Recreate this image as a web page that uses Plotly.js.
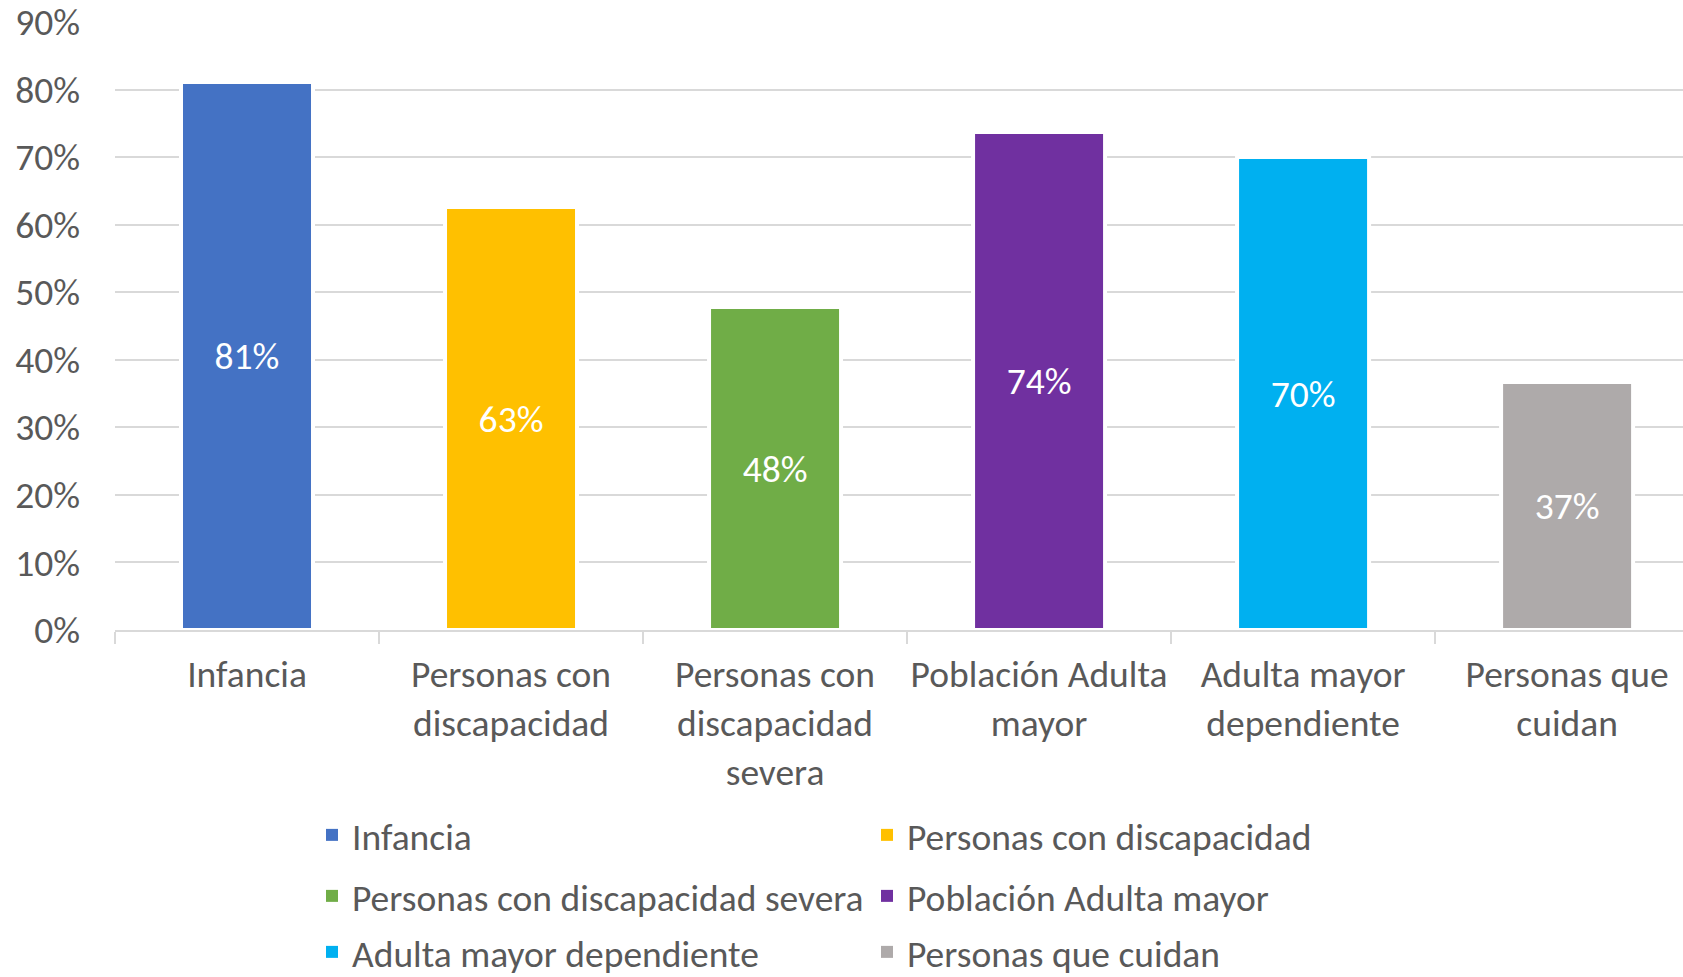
<!DOCTYPE html>
<html>
<head>
<meta charset="utf-8">
<script src="https://cdn.plot.ly/plotly-3.0.1.min.js"></script>
<style>html,body{margin:0;padding:0;background:#fff;}#chart{width:1683px;height:977px;}</style>
</head>
<body>
<div id="chart"></div>
<script>
const categories = ["Infancia", "Personas con discapacidad", "Personas con discapacidad severa", "Población Adulta mayor", "Adulta mayor dependiente", "Personas que cuidan"];
const tickLabels = ["Infancia", "Personas con<br>discapacidad", "Personas con<br>discapacidad<br>severa", "Población Adulta<br>mayor", "Adulta mayor<br>dependiente", "Personas que<br>cuidan"];
const values = [81.1, 62.6, 47.8, 73.7, 70.0, 36.7];
const colors = ["#4472C4", "#FFC000", "#70AD47", "#7030A0", "#00B0F0", "#AEAAAA"];
const yTicks = [0, 10, 20, 30, 40, 50, 60, 70, 80, 90];

const FONT = "Carlito, Calibri, Lato, sans-serif";
const GREY = "#595959";
const FS = 37.5;

// bars (one trace per category, not shown in legend)
const barTraces = categories.map((c, i) => ({
  type: "bar",
  name: c,
  x: [tickLabels[i]],
  y: [values[i]],
  width: 0.5,
  marker: {color: colors[i], line: {color: "#ffffff", width: 4}},
  text: [Math.round(values[i]) + "%"],
  textposition: "inside",
  insidetextanchor: "middle",
  textangle: 0,
  constraintext: "none",
  textfont: {family: FONT, size: FS, color: "#ffffff"},
  hoverinfo: "skip",
  showlegend: false
}));

// legend entries (two per row, three rows)
const legendIds = ["legend", "legend", "legend2", "legend2", "legend3", "legend3"];
const legendTraces = categories.map((c, i) => ({
  type: "bar",
  name: c,
  x: [tickLabels[i]],
  y: [null],
  marker: {color: colors[i]},
  hoverinfo: "skip",
  showlegend: true,
  legend: legendIds[i]
}));

const rowTops = [804, 865, 921];
function legendRow(top) {
  return {
    orientation: "h",
    xref: "container",
    yref: "container",
    x: 312 / 1683,
    xanchor: "left",
    y: 1 - top / 977,
    yanchor: "top",
    entrywidth: 510,
    entrywidthmode: "pixels",
    font: {family: FONT, size: FS, color: GREY},
    bgcolor: "rgba(0,0,0,0)",
    itemclick: false,
    itemdoubleclick: false,
    traceorder: "normal"
  };
}

const layout = {
  width: 1683,
  height: 977,
  margin: {l: 115, r: 0, t: 22, b: 347, pad: 0},
  paper_bgcolor: "#ffffff",
  plot_bgcolor: "#ffffff",
  barmode: "overlay",
  showlegend: true,
  font: {family: FONT, color: GREY, size: FS},
  xaxis: {
    type: "category",
    categoryorder: "array",
    categoryarray: tickLabels,
    range: [-0.5, 5.439],
    tickson: "boundaries",
    tickangle: 0,
    ticks: "outside",
    ticklen: 12,
    tickwidth: 1.5,
    tickcolor: "#d9d9d9",
    showline: true,
    linecolor: "#d9d9d9",
    linewidth: 2,
    showgrid: false,
    zeroline: false,
    tickfont: {family: FONT, size: FS, color: GREY},
    ticklabelstandoff: 10,
    ticklabeloverflow: "allow"
  },
  yaxis: {
    range: [0, 90],
    tickmode: "array",
    tickvals: yTicks,
    ticktext: yTicks.map(v => v + "%"),
    showgrid: true,
    gridcolor: "#d9d9d9",
    gridwidth: 2,
    zeroline: false,
    showline: false,
    ticks: "",
    tickfont: {family: FONT, size: FS, color: GREY},
    ticklabelstandoff: 34,
    ticklabeloverflow: "allow"
  },
  legend: legendRow(rowTops[0]),
  legend2: legendRow(rowTops[1]),
  legend3: legendRow(rowTops[2])
};

Plotly.newPlot("chart", barTraces.concat(legendTraces), layout, {displayModeBar: false, staticPlot: true});
</script>
</body>
</html>
